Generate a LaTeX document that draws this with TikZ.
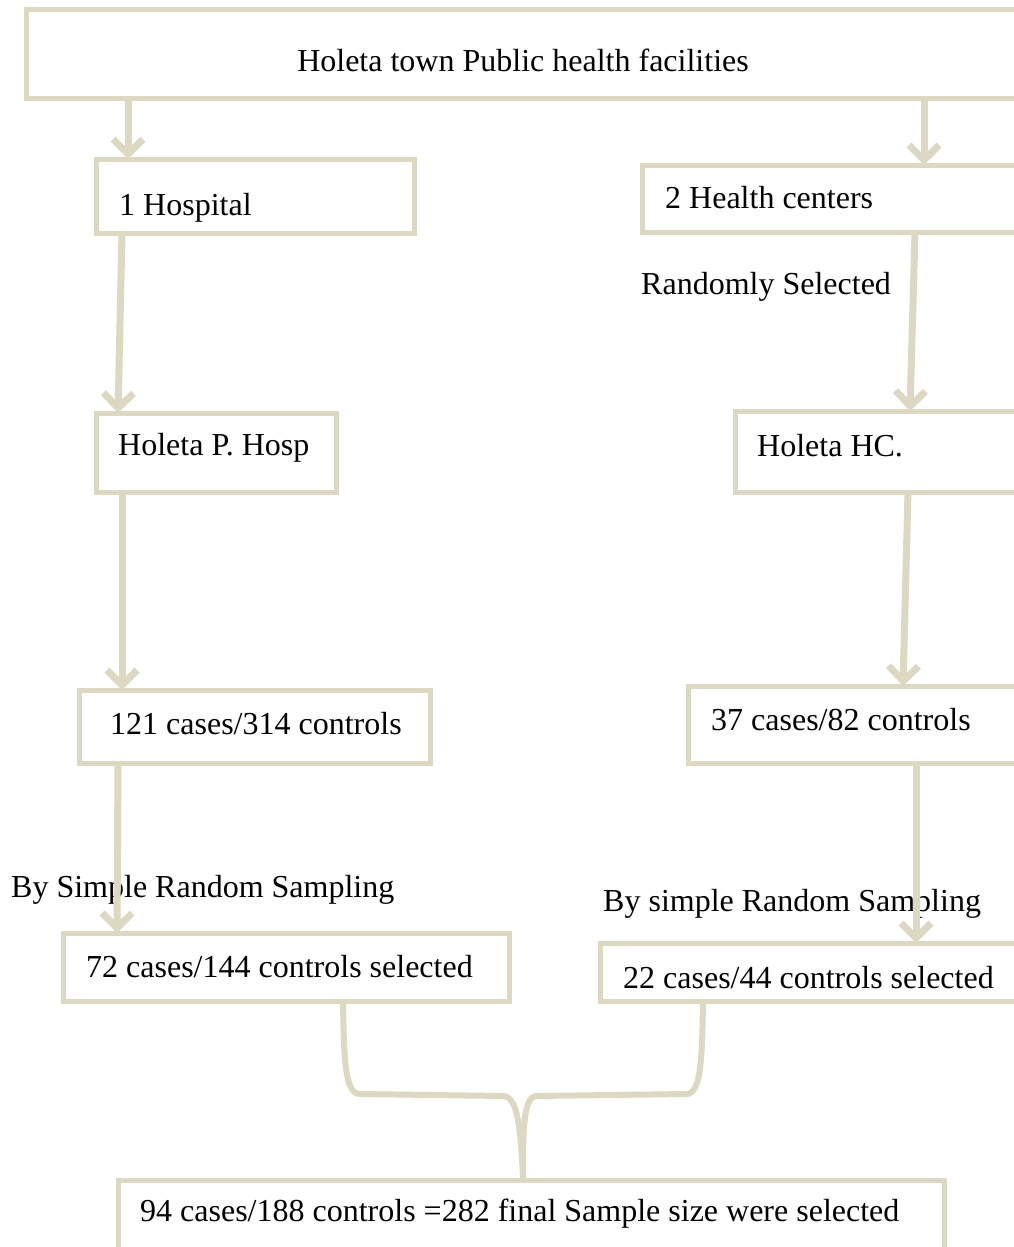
\documentclass[tikz,border=0pt]{standalone}
\usepackage{fontspec}
\setmainfont{Liberation Serif}
\usetikzlibrary{arrows.meta,calc}
\definecolor{tan}{HTML}{DDD8C2}
\tikzset{
  box/.style={draw=tan, line width=5pt, inner sep=0pt, outer sep=0pt, anchor=north west},
  lbl/.style={anchor=west, inner sep=0pt, yshift=-2pt, font=\fontsize{32}{38}\selectfont},
  arr/.style={draw=tan, line width=7pt, -{Straight Barb[length=15pt,width=30pt]}},
  brace/.style={draw=tan, line width=6pt},
}
\begin{document}
\begin{tikzpicture}[x=1pt,y=-1pt]
\clip (0,0) rectangle (1014,1247);
\fill[white] (0,0) rectangle (1014,1247);
% boxes
\node[box, minimum width=1100pt, minimum height=88pt] (top) at (26,10) {};
\node[box, minimum width=318pt, minimum height=74pt] (hosp) at (96,159) {};
\node[box, minimum width=400pt, minimum height=67pt] (hc) at (642,165) {};
\node[box, minimum width=240pt, minimum height=79pt] (php) at (96,413) {};
\node[box, minimum width=300pt, minimum height=81pt] (hhc) at (735,411) {};
\node[box, minimum width=351pt, minimum height=73pt] (c121) at (79,690) {};
\node[box, minimum width=350pt, minimum height=77pt] (c37) at (688,686) {};
\node[box, minimum width=446pt, minimum height=68pt] (s72) at (63,933) {};
\node[box, minimum width=420pt, minimum height=58pt] (s22) at (600,943) {};
\node[box, minimum width=826pt, minimum height=120pt] (fin) at (118,1180) {};
% labels
\node[lbl, anchor=center] (t1) at (523,58) {Holeta town Public health facilities};
\node[lbl] (t2) at (119,206) {1 Hospital};
\node[lbl] (t3) at (665,196) {2 Health centers};
\node[lbl] (t4) at (641,285) {Randomly Selected};
\node[lbl] (t5) at (118,446) {Holeta P. Hosp};
\node[lbl] (t6) at (757,444) {Holeta HC.};
\node[lbl] (t7) at (110,722) {121 cases/314 controls};
\node[lbl] (t8) at (711,718) {37 cases/82 controls};
\node[lbl] (t9) at (11,888) {By Simple Random Sampling};
\node[lbl] (t10) at (603,902) {By simple Random Sampling};
\node[lbl] (t11) at (86,965) {72 cases/144 controls selected};
\node[lbl] (t12) at (623,976) {22 cases/44 controls selected};
\node[lbl] (t13) at (140,1212) {94 cases/188 controls =282 final Sample size were selected};
% arrows
\draw[arr] ([xshift=32pt]hosp.north west |- top.south) -- ([xshift=32pt]hosp.north west);
\draw[arr] ([xshift=282pt]hc.north west |- top.south) -- ([xshift=282pt]hc.north west);
\draw[arr] ([xshift=26pt]hosp.south west) -- ([xshift=22pt]php.north west);
\draw[arr] ([xshift=273pt]hc.south west) -- ([xshift=175pt]hhc.north west);
\draw[arr] ([xshift=26pt]php.south west) -- ([xshift=43pt]c121.north west);
\draw[arr] ([xshift=173pt]hhc.south west) -- ([xshift=215pt]c37.north west);
\draw[arr] ([xshift=39pt]c121.south west) -- ([xshift=54pt]s72.north west);
\draw[arr] ([xshift=228pt]c37.south west) -- ([xshift=316pt]s22.north west);
% brace
\coordinate (bl) at ([xshift=280pt]s72.south west);
\coordinate (br) at ([xshift=103pt]s22.south west);
\coordinate (bm) at ([xshift=405pt]fin.north west);
\draw[brace] (bl) .. controls ($(bl)+(1,60)$) and ($(bl)+(2,93)$) .. ($(bl)+(17,93)$)
  -- ($(bm)+(-20,-84)$) .. controls ($(bm)+(-5,-84)$) and ($(bm)+(-2,-50)$) .. (bm);
\draw[brace] (br) .. controls ($(br)+(-1,60)$) and ($(br)+(-2,93)$) .. ($(br)+(-17,93)$)
  -- ($(bm)+(14,-84)$) .. controls ($(bm)+(0,-84)$) and ($(bm)+(0,-50)$) .. (bm);
\end{tikzpicture}
\end{document}
